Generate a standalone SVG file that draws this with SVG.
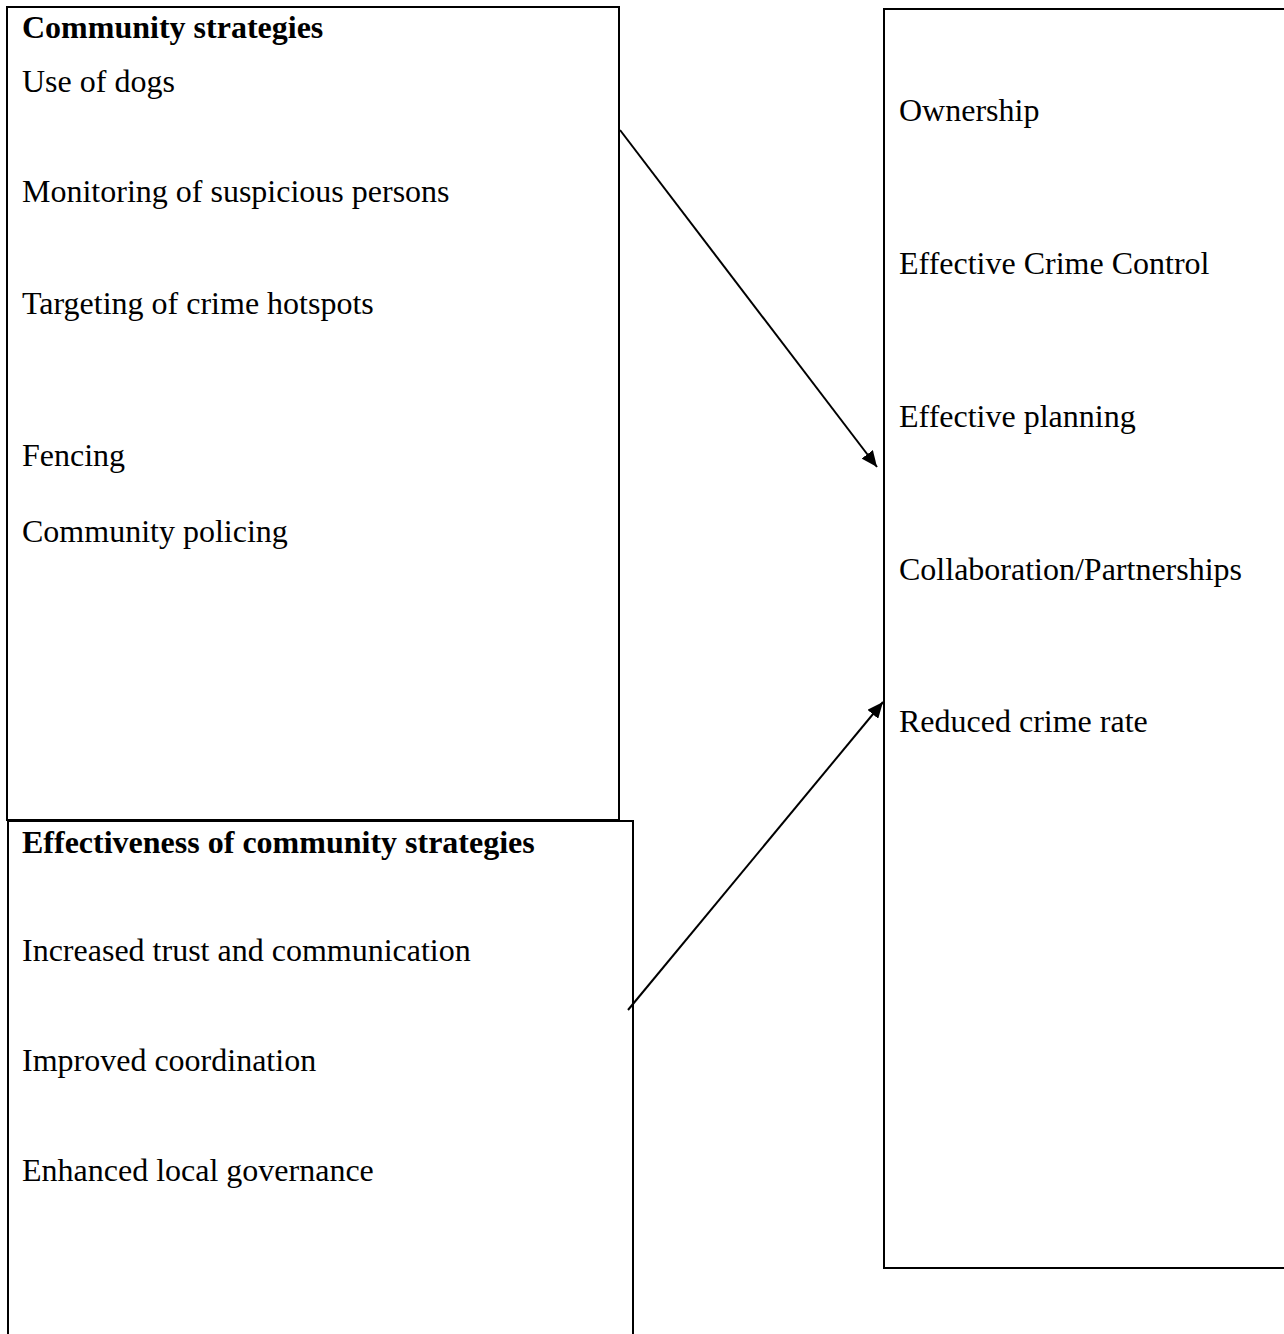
<svg xmlns="http://www.w3.org/2000/svg" width="1284" height="1334" viewBox="0 0 1284 1334">
<style>
.box{fill:none;stroke:#000;stroke-width:2}
.t{font-family:"Liberation Serif","Times New Roman",serif;font-size:32px;fill:#000}
.b{font-weight:bold}
.c{stroke:#000;stroke-width:2;fill:none}
</style>
<defs>
<marker id="ah2" markerWidth="16" markerHeight="14" refX="16" refY="7" orient="auto" markerUnits="userSpaceOnUse" viewBox="0 0 16 14">
<path d="M0,0 L16,7 L0,14 z" fill="#000"/>
</marker>
</defs>
<rect width="1284" height="1334" fill="#fff"/>
<g id="community-strategies">
<rect class="box" x="7" y="7" width="612" height="813"/>
<text class="t b" x="22" y="38">Community strategies</text>
<text class="t" x="22" y="92">Use of dogs</text>
<text class="t" x="22" y="202">Monitoring of suspicious persons</text>
<text class="t" x="22" y="314">Targeting of crime hotspots</text>
<text class="t" x="22" y="466">Fencing</text>
<text class="t" x="22" y="542">Community policing</text>
</g>
<g id="effectiveness">
<path class="box" d="M8,1340 V821 H633 V1340"/>
<text class="t b" x="22" y="853">Effectiveness of community strategies</text>
<text class="t" x="22" y="961">Increased trust and communication</text>
<text class="t" x="22" y="1071">Improved coordination</text>
<text class="t" x="22" y="1181">Enhanced local governance</text>
</g>
<g id="outcomes">
<path class="box" d="M1290,9 H884 V1268 H1290"/>
<text class="t" x="899" y="121">Ownership</text>
<text class="t" x="899" y="274">Effective Crime Control</text>
<text class="t" x="899" y="427">Effective planning</text>
<text class="t" x="899" y="580">Collaboration/Partnerships</text>
<text class="t" x="899" y="732">Reduced crime rate</text>
</g>
<g id="connectors">
<line class="c" x1="620" y1="130" x2="877" y2="467" marker-end="url(#ah2)"/>
<line class="c" x1="628" y1="1010" x2="883" y2="702" marker-end="url(#ah2)"/>
</g>
</svg>
